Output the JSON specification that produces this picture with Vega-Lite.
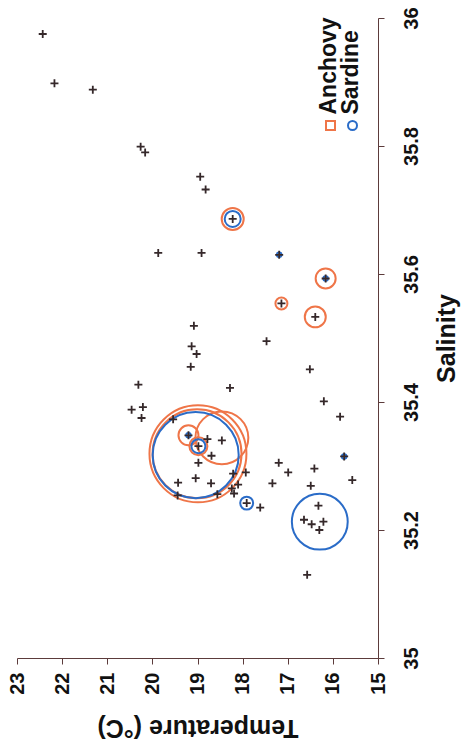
{
  "$schema": "https://vega.github.io/schema/vega-lite/v6.json",
  "width": 361,
  "height": 640,
  "autosize": {"type": "none"},
  "padding": {"left": 17, "top": 18, "right": 83, "bottom": 89},
  "background": "white",
  "config": {
    "view": {"stroke": null},
    "font": "Liberation Sans",
    "axis": {
      "grid": false,
      "domainColor": "#5c3b3b",
      "domainWidth": 1,
      "tickColor": "#5c3b3b",
      "tickSize": 6,
      "labelFont": "Liberation Sans",
      "labelFontSize": 20,
      "labelFontWeight": "bold",
      "labelColor": "#111111",
      "titleFont": "Liberation Sans",
      "titleFontSize": 25,
      "titleFontWeight": "bold",
      "titleColor": "#111111"
    }
  },
  "datasets": {
    "stations": [
      {"temperature": 22.43, "salinity": 35.975},
      {"temperature": 22.17, "salinity": 35.898},
      {"temperature": 21.32, "salinity": 35.888},
      {"temperature": 20.26, "salinity": 35.799},
      {"temperature": 20.16, "salinity": 35.790},
      {"temperature": 18.94, "salinity": 35.752},
      {"temperature": 18.82, "salinity": 35.732},
      {"temperature": 18.22, "salinity": 35.686},
      {"temperature": 19.87, "salinity": 35.633},
      {"temperature": 18.91, "salinity": 35.633},
      {"temperature": 17.19, "salinity": 35.630},
      {"temperature": 16.16, "salinity": 35.593},
      {"temperature": 17.14, "salinity": 35.554},
      {"temperature": 16.39, "salinity": 35.533},
      {"temperature": 19.08, "salinity": 35.519},
      {"temperature": 17.47, "salinity": 35.495},
      {"temperature": 19.13, "salinity": 35.487},
      {"temperature": 19.02, "salinity": 35.475},
      {"temperature": 19.15, "salinity": 35.455},
      {"temperature": 16.51, "salinity": 35.451},
      {"temperature": 20.31, "salinity": 35.427},
      {"temperature": 18.28, "salinity": 35.422},
      {"temperature": 16.20, "salinity": 35.401},
      {"temperature": 20.21, "salinity": 35.392},
      {"temperature": 20.46, "salinity": 35.388},
      {"temperature": 20.24, "salinity": 35.375},
      {"temperature": 15.84, "salinity": 35.377},
      {"temperature": 19.54, "salinity": 35.373},
      {"temperature": 19.20, "salinity": 35.348},
      {"temperature": 18.78, "salinity": 35.342},
      {"temperature": 18.46, "salinity": 35.340},
      {"temperature": 18.98, "salinity": 35.331},
      {"temperature": 18.69, "salinity": 35.316},
      {"temperature": 15.75, "salinity": 35.315},
      {"temperature": 18.98, "salinity": 35.305},
      {"temperature": 17.20, "salinity": 35.305},
      {"temperature": 16.99, "salinity": 35.290},
      {"temperature": 16.41, "salinity": 35.296},
      {"temperature": 17.93, "salinity": 35.290},
      {"temperature": 18.21, "salinity": 35.288},
      {"temperature": 19.04, "salinity": 35.281},
      {"temperature": 15.57, "salinity": 35.278},
      {"temperature": 19.43, "salinity": 35.274},
      {"temperature": 18.70, "salinity": 35.273},
      {"temperature": 17.34, "salinity": 35.273},
      {"temperature": 18.10, "salinity": 35.271},
      {"temperature": 16.49, "salinity": 35.269},
      {"temperature": 18.24, "salinity": 35.265},
      {"temperature": 18.19, "salinity": 35.257},
      {"temperature": 19.44, "salinity": 35.254},
      {"temperature": 18.56, "salinity": 35.256},
      {"temperature": 17.91, "salinity": 35.242},
      {"temperature": 17.61, "salinity": 35.235},
      {"temperature": 16.32, "salinity": 35.238},
      {"temperature": 16.64, "salinity": 35.216},
      {"temperature": 16.47, "salinity": 35.209},
      {"temperature": 16.21, "salinity": 35.213},
      {"temperature": 16.30, "salinity": 35.200},
      {"temperature": 16.57, "salinity": 35.130}
    ],
    "catches": [
      {"species": "Anchovy", "temperature": 18.99, "salinity": 35.319, "abundance": 235},
      {"species": "Anchovy", "temperature": 19.01, "salinity": 35.319, "abundance": 198},
      {"species": "Anchovy", "temperature": 18.46, "salinity": 35.344, "abundance": 70},
      {"species": "Anchovy", "temperature": 19.20, "salinity": 35.348, "abundance": 10},
      {"species": "Anchovy", "temperature": 18.98, "salinity": 35.331, "abundance": 8.1},
      {"species": "Anchovy", "temperature": 18.22, "salinity": 35.686, "abundance": 12.1},
      {"species": "Anchovy", "temperature": 16.16, "salinity": 35.593, "abundance": 10},
      {"species": "Anchovy", "temperature": 17.14, "salinity": 35.554, "abundance": 3.6},
      {"species": "Anchovy", "temperature": 16.39, "salinity": 35.533, "abundance": 11},
      {"species": "Sardine", "temperature": 19.04, "salinity": 35.317, "abundance": 185},
      {"species": "Sardine", "temperature": 18.98, "salinity": 35.331, "abundance": 4.9},
      {"species": "Sardine", "temperature": 19.20, "salinity": 35.348, "abundance": 0.5},
      {"species": "Sardine", "temperature": 18.22, "salinity": 35.686, "abundance": 6.4},
      {"species": "Sardine", "temperature": 17.19, "salinity": 35.630, "abundance": 0.5},
      {"species": "Sardine", "temperature": 16.16, "salinity": 35.593, "abundance": 0.5},
      {"species": "Sardine", "temperature": 17.91, "salinity": 35.242, "abundance": 4.2},
      {"species": "Sardine", "temperature": 16.29, "salinity": 35.213, "abundance": 78},
      {"species": "Sardine", "temperature": 15.75, "salinity": 35.315, "abundance": 0.5}
    ]
  },
  "layer": [
    {
      "data": {"name": "catches"},
      "mark": {"type": "point", "shape": "circle", "filled": false, "strokeWidth": 2, "opacity": 1},
      "encoding": {
        "x": {
          "field": "temperature",
          "type": "quantitative",
          "scale": {"domain": [15, 23], "reverse": true, "nice": false, "zero": false},
          "axis": {
            "orient": "bottom",
            "values": [15, 16, 17, 18, 19, 20, 21, 22, 23],
            "format": "d",
            "labelAngle": 270,
            "labelAlign": "right",
            "labelBaseline": "middle",
            "labelPadding": 8,
            "title": "Temperature (°C)",
            "titleAngle": 180,
            "titleBaseline": "middle",
            "titleAlign": "center",
            "titleY": 69
          }
        },
        "y": {
          "field": "salinity",
          "type": "quantitative",
          "scale": {"domain": [35, 36], "nice": false, "zero": false},
          "axis": {
            "orient": "right",
            "values": [35, 35.2, 35.4, 35.6, 35.8, 36],
            "format": "~g",
            "labelAngle": 270,
            "labelAlign": "center",
            "labelBaseline": "top",
            "labelPadding": 17,
            "title": "Salinity",
            "titleAngle": 270,
            "titleBaseline": "middle",
            "titleAlign": "center",
            "titleX": 68
          }
        },
        "color": {
          "field": "species",
          "type": "nominal",
          "scale": {"domain": ["Anchovy", "Sardine"], "range": ["#ef7548", "#2a6cc8"]},
          "legend": {
            "orient": "none",
            "legendX": 302,
            "legendY": 96,
            "direction": "horizontal",
            "columns": 2,
            "title": null,
            "symbolSize": 81,
            "symbolStrokeWidth": 2,
            "labelFont": "Liberation Sans",
            "labelFontSize": 23,
            "labelFontWeight": "bold",
            "labelColor": "#111111",
            "labelOffset": -13,
            "columnPadding": -4,
            "encoding": {
              "labels": {
                "angle": {"value": 270},
                "align": {"value": "left"},
                "baseline": {"value": "middle"},
                "dx": {"value": 11}
              },
              "symbols": {
                "shape": {"value": {"expr": "datum.value == 'Anchovy' ? 'square' : 'circle'"}}
              }
            }
          }
        },
        "size": {
          "field": "abundance",
          "type": "quantitative",
          "scale": {"type": "linear", "domain": [0, 250], "range": [0, 10000], "zero": true},
          "legend": null
        }
      }
    },
    {
      "data": {"name": "stations"},
      "mark": {"type": "point", "shape": "M-1,0L1,0M0,-1L0,1", "filled": false, "strokeWidth": 1.8, "color": "#35282a", "size": 64, "opacity": 1},
      "encoding": {
        "x": {"field": "temperature", "type": "quantitative"},
        "y": {"field": "salinity", "type": "quantitative"}
      }
    }
  ]
}
